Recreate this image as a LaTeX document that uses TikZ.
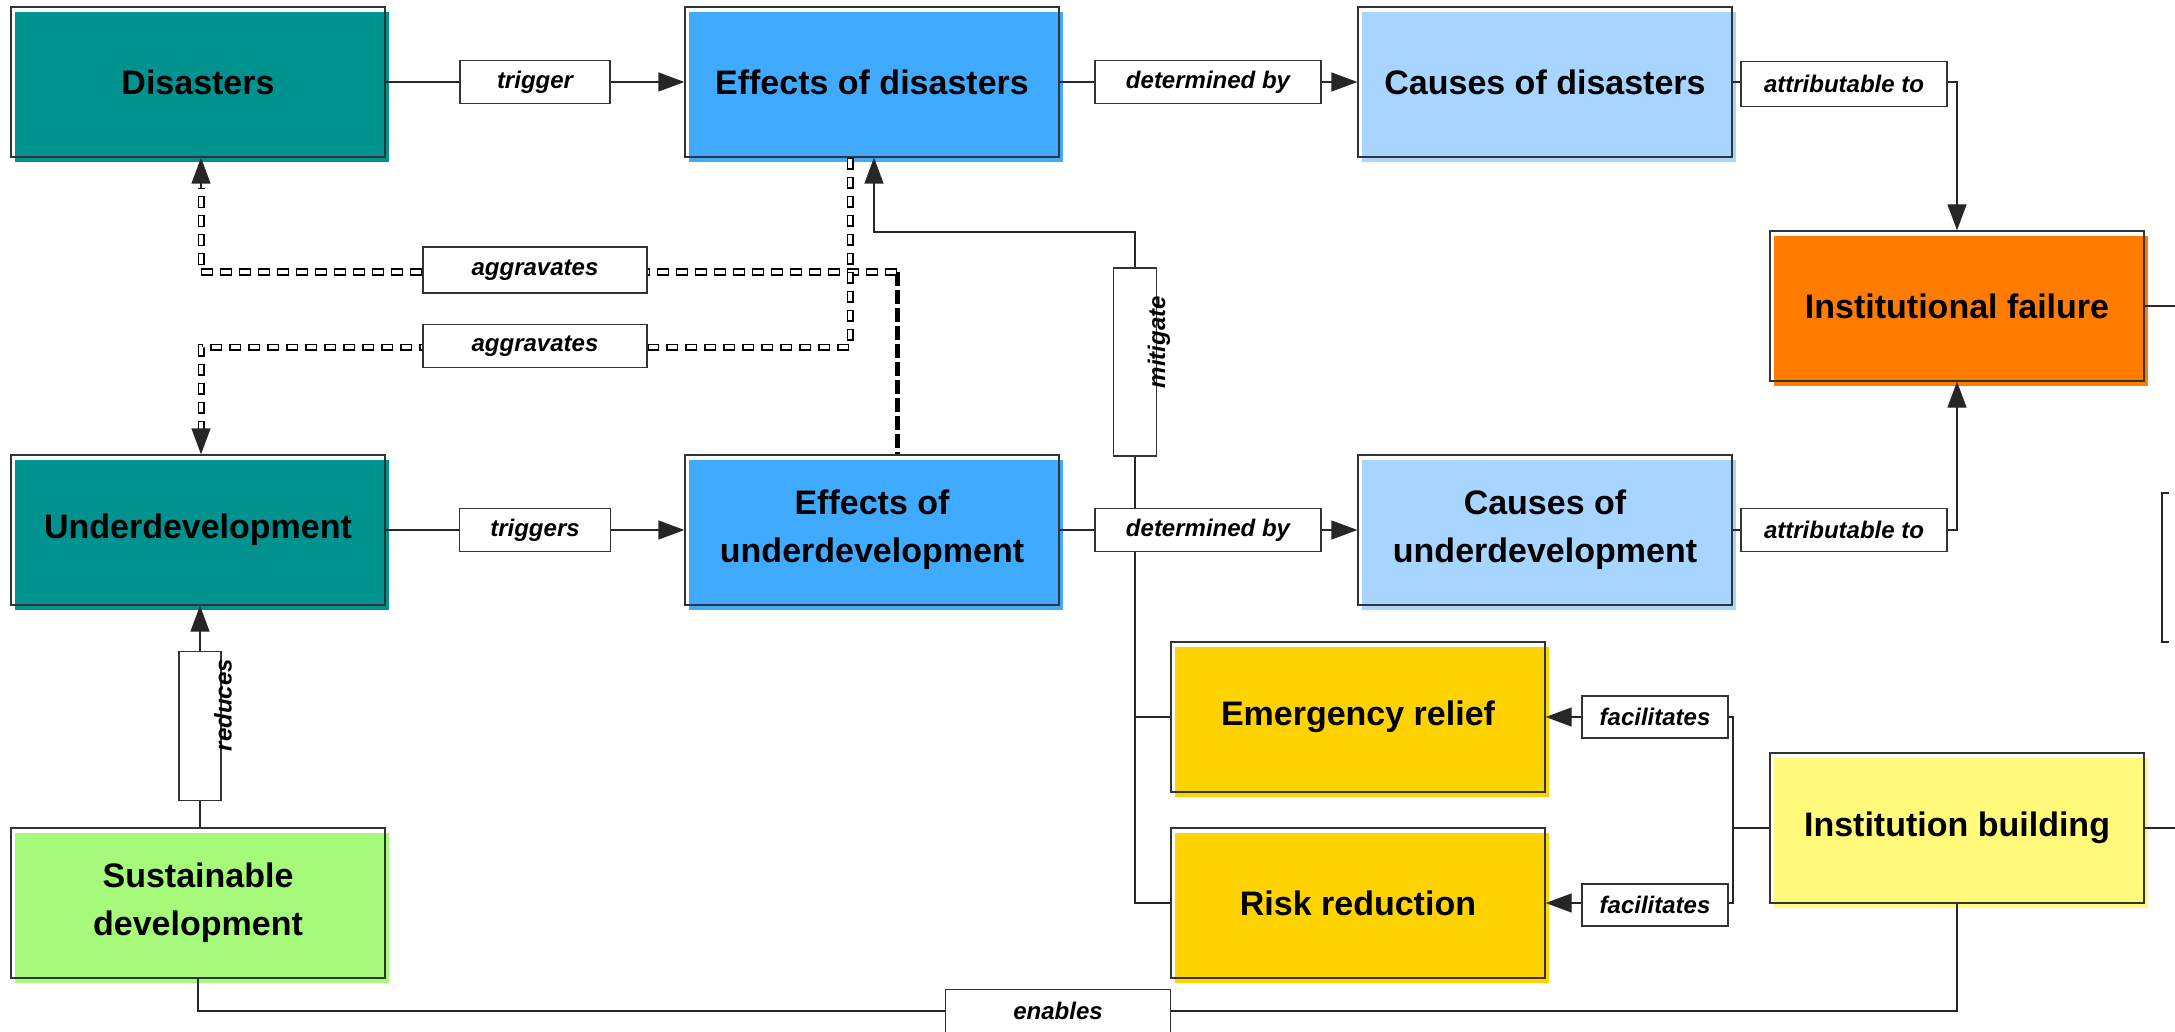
\documentclass[tikz,border=0pt]{standalone}
\usepackage{fontspec}
\setmainfont{Liberation Sans}
\usetikzlibrary{arrows.meta,shadows}
\definecolor{cTeal}{RGB}{0,146,143}
\definecolor{cBlue}{RGB}{64,170,255}
\definecolor{cLBlue}{RGB}{168,213,255}
\definecolor{cOrange}{RGB}{255,124,0}
\definecolor{cGold}{RGB}{255,211,0}
\definecolor{cPale}{RGB}{255,250,122}
\definecolor{cGreen}{RGB}{166,250,122}
\begin{document}
\begin{tikzpicture}[x=1pt,y=-1pt,
  box/.style={draw=black!80, line width=1.3pt, minimum width=374pt, minimum height=150pt,
    inner sep=0pt, align=center, font=\bfseries\fontsize{34}{48}\selectfont,
    general shadow={fill=#1, shadow xshift=4pt, shadow yshift=-5pt}},
  lbl/.style={draw=black!80, fill=white, line width=1.2pt, inner sep=0pt,
    font=\bfseries\itshape\fontsize{24}{28}\selectfont},
  lbltext/.style={inner sep=0pt, font=\bfseries\itshape\fontsize{24}{28}\selectfont},
  ln/.style={draw=black!85, line width=1.3pt},
  arr/.style={ln, -{Triangle[length=26pt,width=19pt]}},
  hollow/.style={draw=black, line width=7pt, dash pattern=on 12pt off 7pt,
    postaction={draw=white, line width=4.4pt, dash pattern=on 9.6pt off 9.4pt, dash phase=17.8pt}},
  heavydash/.style={draw=black, line width=5pt, dash pattern=on 14pt off 4pt}
]
\useasboundingbox (0,0) rectangle (2175,1032);

% main boxes
\node[box=cTeal]   (dis)   at (198,82)   {Disasters};
\node[box=cBlue]   (eod)   at (872,82)   {Effects of disasters};
\node[box=cLBlue]  (cod)   at (1545,82)  {Causes of disasters};
\node[box=cOrange] (ifail) at (1957,306) {Institutional failure};
\node[box=cTeal]   (und)   at (198,530)  {Underdevelopment};
\node[box=cBlue]   (eou)   at (872,530)  {Effects of\\underdevelopment};
\node[box=cLBlue]  (cou)   at (1545,530) {Causes of\\underdevelopment};
\node[box=cGold]   (er)    at (1358,717) {Emergency relief};
\node[box=cGold]   (rr)    at (1358,903) {Risk reduction};
\node[box=cPale]   (ib)    at (1957,828) {Institution building};
\node[box=cGreen]  (sd)    at (198,903)  {Sustainable\\development};

% helper coordinates
\coordinate (edgeR) at (2175,0);
\coordinate (a1) at (897,272);
\coordinate (a2) at (201,272);
\coordinate (a3) at (201,188);
\coordinate (b1) at (850,347);
\coordinate (b2) at (201,347);
\coordinate (b3) at (201,430);
\coordinate (mt) at (874,232);
\coordinate (fj) at (1733,828);

% aggravates connectors (drawn first, labels on top)
\draw[heavydash] (a1) -- (a1 |- eou.north);
\draw[hollow] (a1) -- (a2) -- (a3);
\draw[arr] (a3) -- (dis.south -| a3);
\draw[hollow] (eod.south -| b1) -- (b1) -- (b2) -- (b3);
\draw[arr] (b3) -- (und.north -| b3);

% labels
\node[lbl, minimum width=150pt, minimum height=43pt] (trig) at (535,82)   {trigger};
\node[lbl, minimum width=226pt, minimum height=43pt] (det1) at (1208,82)  {determined by};
\node[lbl, minimum width=206pt, minimum height=45pt] (att1) at (1844,84)  {attributable to};
\node[lbl, minimum width=224pt, minimum height=46pt] (agg1) at (535,270)  {aggravates};
\node[lbl, minimum width=224pt, minimum height=43pt] (agg2) at (535,346)  {aggravates};
\node[lbl, minimum width=43pt,  minimum height=188pt] (mit) at (1135,362) {};
\node[lbltext, rotate=90] (mitt) at (1159,342) {mitigate};
\node[lbl, minimum width=151pt, minimum height=43pt] (trigs) at (535,530) {triggers};
\node[lbl, minimum width=226pt, minimum height=43pt] (det2) at (1208,530) {determined by};
\node[lbl, minimum width=206pt, minimum height=43pt] (att2) at (1844,530) {attributable to};
\node[lbl, minimum width=146pt, minimum height=42pt] (fac1) at (1655,717) {facilitates};
\node[lbl, minimum width=146pt, minimum height=42pt] (fac2) at (1655,905) {facilitates};
\node[lbl, minimum width=42pt,  minimum height=149pt] (red) at (200,726) {};
\node[lbltext, rotate=90] (redt) at (223,705) {reduces};
\node[lbl, minimum width=225pt, minimum height=43pt] (en) at (1058,1011) {enables};

% solid connectors
\draw[ln]  (dis.east) -- (trig.west);
\draw[arr] (trig.east) -- (eod.west);
\draw[ln]  (eod.east) -- (det1.west);
\draw[arr] (det1.east) -- (cod.west);
\draw[ln]  (cod.east) -- (cod.east -| att1.west);
\draw[arr] (att1.east |- cod.east) -| (ifail.north);

\draw[ln]  (und.east) -- (trigs.west);
\draw[arr] (trigs.east) -- (eou.west);
\draw[ln]  (eou.east) -- (det2.west);
\draw[arr] (det2.east) -- (cou.west);
\draw[ln]  (cou.east) -- (att2.west);
\draw[arr] (att2.east) -| (ifail.south);

% mitigate
\draw[ln]  (er.west) -- (er.west -| mit);
\draw[ln]  (rr.west) -| (det2.south -| mit);
\draw[ln]  (det2.north -| mit) -- (mit.south);
\draw[arr] (mit.north) |- (mt) -- (mt |- eod.south);

% facilitates
\draw[ln]  (ib.west) -- (fj);
\draw[ln]  (fj) |- (fac1.east);
\draw[ln]  (fj) |- (fac2.east |- rr.east);
\draw[arr] (fac1.west) -- (er.east);
\draw[arr] (fac2.west |- rr.east) -- (rr.east);

% reduces
\draw[ln]  (sd.north -| red) -- (red.south);
\draw[arr] (red.north) -- (und.south -| red);

% enables
\draw[ln]  (sd.south) |- (en.west);
\draw[ln]  (en.east) -| (ib.south);

% edge stubs
\draw[ln] (ifail.east) -- (ifail.east -| edgeR);
\draw[ln] (ib.east) -- (ib.east -| edgeR);
\draw[ln] (2169,493) -- (2162,493) -- (2162,642) -- (2169,642);
\end{tikzpicture}
\end{document}
